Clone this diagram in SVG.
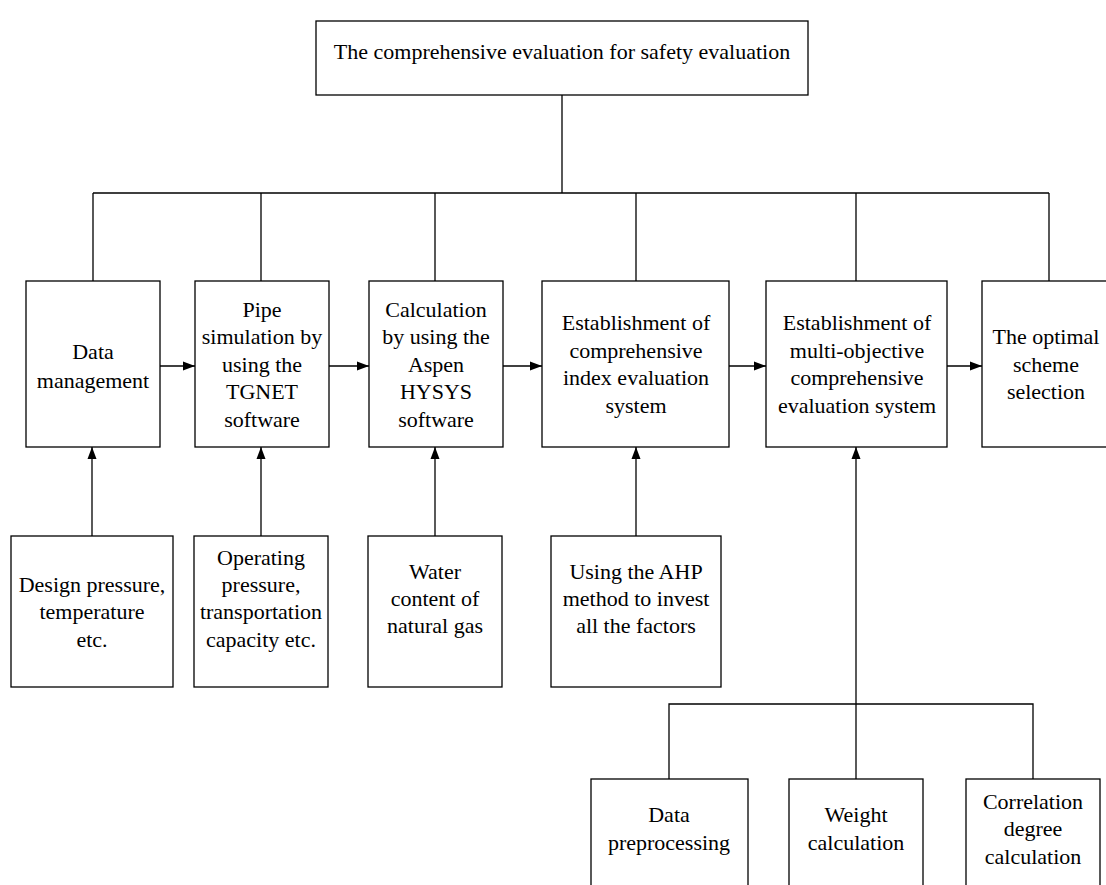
<svg xmlns="http://www.w3.org/2000/svg" width="1106" height="885" viewBox="0 0 1106 885">
<style>
.box{fill:#fff;stroke:#000;stroke-width:1.3}
.ln{fill:none;stroke:#000;stroke-width:1.3}
.t{font-family:'Liberation Serif','Times New Roman',Times,serif;font-size:22px;fill:#000;text-anchor:middle}
</style>
<defs>
<marker id="ah" viewBox="0 0 12 10" refX="12" refY="5" markerWidth="12" markerHeight="10" markerUnits="userSpaceOnUse" orient="auto">
<path d="M0,0.5 L12,5 L0,9.5 Z" fill="#000"/>
</marker>
</defs>
<rect width="1106" height="885" fill="#fff"/>
<g id="connectors">
<path class="ln" d="M562,95 V193 M93,193 H1049 M93,193 V281 M261,193 V281 M435,193 V281 M636,193 V281 M856,193 V281 M1049,193 V281"/>
<path class="ln" d="M160,366 H195" marker-end="url(#ah)"/>
<path class="ln" d="M329,366 H369" marker-end="url(#ah)"/>
<path class="ln" d="M503,366 H542" marker-end="url(#ah)"/>
<path class="ln" d="M729,366 H766" marker-end="url(#ah)"/>
<path class="ln" d="M947,366 H982" marker-end="url(#ah)"/>
<path class="ln" d="M92,536 V447" marker-end="url(#ah)"/>
<path class="ln" d="M261,536 V447" marker-end="url(#ah)"/>
<path class="ln" d="M435,536 V447" marker-end="url(#ah)"/>
<path class="ln" d="M636,536 V447" marker-end="url(#ah)"/>
<path class="ln" d="M856,779 V447" marker-end="url(#ah)"/>
<path class="ln" d="M669,779 V704 H1033 V779"/>
</g>
<g class="t" font-family="Liberation Serif, Times New Roman, serif">
<g id="top"><rect class="box" x="316" y="21" width="492" height="74"/><text class="t" x="562" y="59">The comprehensive evaluation for safety evaluation</text></g>
<g id="n1"><rect class="box" x="26" y="281" width="134" height="166"/><text class="t"><tspan x="93" y="359">Data</tspan><tspan x="93" y="388">management</tspan></text></g>
<g id="n2"><rect class="box" x="195" y="281" width="134" height="166"/><text class="t"><tspan x="262" y="317">Pipe</tspan><tspan x="262" y="344">simulation by</tspan><tspan x="262" y="372">using the</tspan><tspan x="262" y="399">TGNET</tspan><tspan x="262" y="427">software</tspan></text></g>
<g id="n3"><rect class="box" x="369" y="281" width="134" height="166"/><text class="t"><tspan x="436" y="317">Calculation</tspan><tspan x="436" y="344">by using the</tspan><tspan x="436" y="372">Aspen</tspan><tspan x="436" y="399">HYSYS</tspan><tspan x="436" y="427">software</tspan></text></g>
<g id="n4"><rect class="box" x="542" y="281" width="187" height="166"/><text class="t"><tspan x="636" y="330">Establishment of</tspan><tspan x="636" y="358">comprehensive</tspan><tspan x="636" y="385">index evaluation</tspan><tspan x="636" y="413">system</tspan></text></g>
<g id="n5"><rect class="box" x="766" y="281" width="181" height="166"/><text class="t"><tspan x="857" y="330">Establishment of</tspan><tspan x="857" y="358">multi-objective</tspan><tspan x="857" y="385">comprehensive</tspan><tspan x="857" y="413">evaluation system</tspan></text></g>
<g id="n6"><rect class="box" x="982" y="281" width="140" height="166"/><text class="t"><tspan x="1046" y="344">The optimal</tspan><tspan x="1046" y="372">scheme</tspan><tspan x="1046" y="399">selection</tspan></text></g>
<g id="i1"><rect class="box" x="11" y="536" width="162" height="151"/><text class="t"><tspan x="92" y="592">Design pressure,</tspan><tspan x="92" y="619">temperature</tspan><tspan x="92" y="647">etc.</tspan></text></g>
<g id="i2"><rect class="box" x="194" y="536" width="134" height="151"/><text class="t"><tspan x="261" y="565">Operating</tspan><tspan x="261" y="592">pressure,</tspan><tspan x="261" y="619">transportation</tspan><tspan x="261" y="647">capacity etc.</tspan></text></g>
<g id="i3"><rect class="box" x="368" y="536" width="134" height="151"/><text class="t"><tspan x="435" y="579">Water</tspan><tspan x="435" y="606">content of</tspan><tspan x="435" y="633">natural gas</tspan></text></g>
<g id="i4"><rect class="box" x="551" y="536" width="170" height="151"/><text class="t"><tspan x="636" y="579">Using the AHP</tspan><tspan x="636" y="606">method to invest</tspan><tspan x="636" y="633">all the factors</tspan></text></g>
<g id="b1"><rect class="box" x="591" y="779" width="157" height="120"/><text class="t"><tspan x="669" y="822">Data</tspan><tspan x="669" y="850">preprocessing</tspan></text></g>
<g id="b2"><rect class="box" x="789" y="779" width="134" height="120"/><text class="t"><tspan x="856" y="822">Weight</tspan><tspan x="856" y="850">calculation</tspan></text></g>
<g id="b3"><rect class="box" x="966" y="779" width="134" height="120"/><text class="t"><tspan x="1033" y="809">Correlation</tspan><tspan x="1033" y="836">degree</tspan><tspan x="1033" y="864">calculation</tspan></text></g>
</g>
</svg>
